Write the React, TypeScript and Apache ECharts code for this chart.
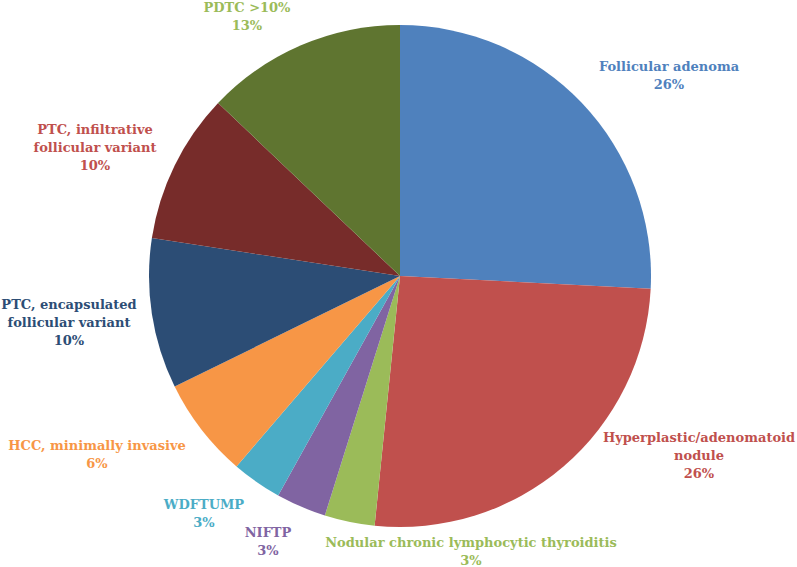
import React, { useEffect, useRef } from "react";
import * as echarts from "echarts";

const categories = [
  "Follicular adenoma",
  "Hyperplastic/adenomatoid\nnodule",
  "Nodular chronic lymphocytic thyroiditis",
  "NIFTP",
  "WDFTUMP",
  "HCC, minimally invasive",
  "PTC, encapsulated\nfollicular variant",
  "PTC, infiltrative\nfollicular variant",
  "PDTC >10%",
];
const counts = [8, 8, 1, 1, 1, 2, 3, 3, 4];
const sliceColors = [
  "#4F81BD", "#C0504D", "#9BBB59", "#8064A2", "#4BACC6",
  "#F79646", "#2C4D75", "#772C2A", "#5F7530",
];
const labelColors = [
  "#4F81BD", "#C0504D", "#9BBB59", "#8064A2", "#4BACC6",
  "#F79646", "#2C4D75", "#C0504D", "#9BBB59",
];
// label centre positions (layout only)
const labelPos: [number, number][] = [
  [669, 75],
  [699, 455],
  [471, 551],
  [268, 541],
  [204, 513],
  [97, 454],
  [69, 322],
  [95, 147],
  [247, 16],
];

export default function App() {
  const ref = useRef<HTMLDivElement>(null);
  useEffect(() => {
    if (!ref.current) return;
    const chart = echarts.init(ref.current, null, { renderer: "svg" });
    const total = counts.reduce((a, b) => a + b, 0);
    chart.setOption({
      animation: false,
      backgroundColor: "#ffffff",
      series: [
        {
          type: "pie",
          center: [400, 276],
          radius: 251,
          startAngle: 90,
          clockwise: true,
          avoidLabelOverlap: false,
          data: categories.map((name, i) => ({
            name,
            value: counts[i],
            itemStyle: { color: sliceColors[i] },
            label: { color: labelColors[i] },
          })),
          label: {
            show: true,
            position: "outside",
            fontFamily: "DejaVu Serif",
            fontWeight: "bold",
            fontSize: 13,
            lineHeight: 18,
            align: "center",
            verticalAlign: "middle",
            formatter: (p: any) =>
              `${p.name}\n${Math.round((p.value / total) * 100)}%`,
          },
          labelLine: { show: false },
          labelLayout: (params: any) => {
            const pos = labelPos[params.dataIndex];
            return { x: pos[0], y: pos[1], align: "center", verticalAlign: "middle" };
          },
          emphasis: { disabled: true },
        },
      ],
    });
    return () => chart.dispose();
  }, []);
  return <div ref={ref} style={{ width: 797, height: 567, position: "absolute", left: 0, top: 0 }} />;
}
